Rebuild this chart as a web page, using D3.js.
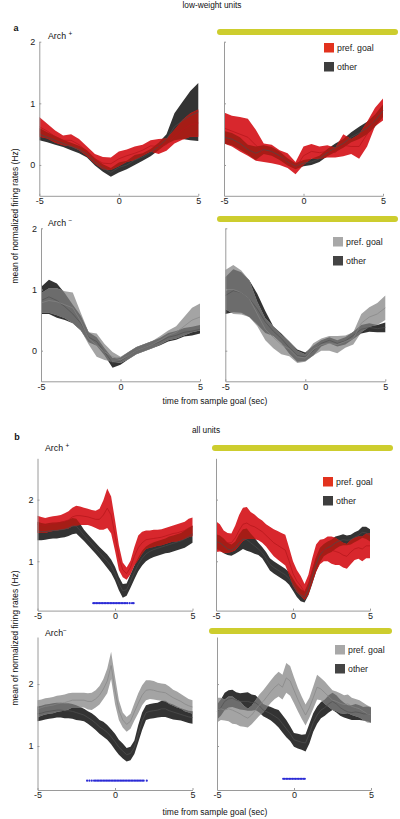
<!DOCTYPE html>
<html><head><meta charset="utf-8">
<script src="https://cdn.jsdelivr.net/npm/d3@7"></script>
<style>
body{margin:0;background:#fff;}
text{font-family:"Liberation Sans",Arial,Helvetica,sans-serif;}
</style>
</head><body>
<svg id="c" width="400" height="819"></svg>
<script>
// ---------- DATA ----------
const timeA = [-5,-4.5,-4,-3.5,-3,-2.5,-2,-1.5,-1,-0.5,0,0.5,1,1.5,2,2.5,3,3.5,4,4.5,5];
const timeB = [-5,-4.75,-4.5,-4.25,-4,-3.75,-3.5,-3.25,-3,-2.75,-2.5,-2.25,-2,-1.75,-1.5,-1.25,-1,-0.75,-0.5,-0.25,0,0.25,0.5,0.75,1,1.25,1.5,1.75,2,2.25,2.5,2.75,3,3.25,3.5,3.75,4,4.25,4.5,4.75,5];

const xTicks = [-5, 0, 5];
const yTicksLow = [0, 1, 2];
const yTicksAll = [1, 2];
const legendLabels = ["pref. goal", "other"];

// a: low-weight units, Arch+ (left: laser off, right: laser on)
const lowPlusL_prefMean  = [0.62,0.55,0.46,0.40,0.40,0.33,0.22,0.10,0.03,0.02,0.10,0.15,0.19,0.24,0.31,0.30,0.33,0.46,0.57,0.65,0.68];
const lowPlusL_prefSem   = [0.16,0.12,0.10,0.08,0.10,0.09,0.08,0.08,0.10,0.10,0.12,0.10,0.11,0.09,0.09,0.12,0.10,0.11,0.16,0.19,0.22];
const lowPlusL_otherMean = [0.50,0.45,0.40,0.35,0.30,0.25,0.18,0.05,-0.05,-0.12,-0.04,0.00,0.08,0.13,0.20,0.30,0.42,0.62,0.72,0.80,0.86];
const lowPlusL_otherSem  = [0.10,0.08,0.07,0.06,0.06,0.06,0.06,0.06,0.06,0.07,0.08,0.07,0.08,0.06,0.06,0.06,0.08,0.22,0.30,0.40,0.47];

const lowPlusR_prefMean  = [0.60,0.55,0.50,0.45,0.32,0.20,0.18,0.12,0.07,-0.05,0.15,0.22,0.20,0.22,0.20,0.32,0.30,0.30,0.50,0.78,0.90];
const lowPlusR_prefSem   = [0.25,0.25,0.28,0.30,0.25,0.15,0.15,0.12,0.12,0.10,0.15,0.12,0.10,0.10,0.08,0.18,0.12,0.20,0.20,0.15,0.18];
const lowPlusR_otherMean = [0.45,0.42,0.35,0.25,0.19,0.25,0.22,0.15,0.05,-0.02,0.03,0.05,0.10,0.20,0.28,0.35,0.45,0.52,0.60,0.72,0.88];
const lowPlusR_otherSem  = [0.10,0.10,0.10,0.08,0.11,0.07,0.07,0.07,0.06,0.05,0.05,0.05,0.05,0.06,0.07,0.07,0.08,0.10,0.10,0.10,0.10];

// a: low-weight units, Arch-
const lowMinusL_prefMean  = [0.78,0.82,0.80,0.75,0.70,0.48,0.20,0.09,-0.02,-0.10,-0.15,-0.08,0.00,0.05,0.10,0.17,0.25,0.30,0.40,0.50,0.55];
const lowMinusL_prefSem   = [0.16,0.20,0.22,0.22,0.25,0.14,0.10,0.19,0.13,0.08,0.05,0.06,0.06,0.06,0.06,0.07,0.08,0.10,0.15,0.20,0.22];
const lowMinusL_otherMean = [0.82,0.88,0.82,0.72,0.60,0.45,0.22,0.15,-0.02,-0.20,-0.17,-0.08,0.00,0.05,0.10,0.15,0.22,0.25,0.30,0.32,0.35];
const lowMinusL_otherSem  = [0.22,0.28,0.28,0.22,0.15,0.12,0.08,0.07,0.06,0.08,0.06,0.06,0.06,0.06,0.06,0.06,0.07,0.07,0.07,0.07,0.07];

const lowMinusR_prefMean  = [1.00,1.00,0.95,0.85,0.60,0.35,0.22,0.10,0.03,-0.10,-0.12,0.02,0.10,0.12,0.10,0.15,0.20,0.45,0.55,0.60,0.70];
const lowMinusR_prefSem   = [0.32,0.40,0.36,0.30,0.20,0.18,0.18,0.16,0.12,0.10,0.06,0.10,0.10,0.12,0.14,0.10,0.10,0.15,0.16,0.18,0.20];
const lowMinusR_otherMean = [0.90,0.98,0.95,0.85,0.68,0.47,0.32,0.20,0.05,-0.08,-0.10,0.00,0.12,0.17,0.12,0.16,0.25,0.35,0.38,0.36,0.38];
const lowMinusR_otherSem  = [0.30,0.35,0.33,0.30,0.25,0.18,0.08,0.08,0.10,0.10,0.07,0.08,0.05,0.05,0.05,0.06,0.06,0.07,0.07,0.06,0.08];

// b: all units, Arch+
const allPlusL_prefMean  = [1.60,1.59,1.58,1.60,1.61,1.62,1.63,1.65,1.67,1.72,1.74,1.74,1.73,1.72,1.70,1.68,1.68,1.75,1.86,1.75,1.42,1.06,0.86,0.80,0.90,1.08,1.22,1.30,1.35,1.36,1.37,1.38,1.39,1.41,1.43,1.45,1.46,1.48,1.50,1.54,1.56];
const allPlusL_prefSem   = [0.14,0.13,0.12,0.12,0.12,0.12,0.12,0.13,0.14,0.15,0.16,0.15,0.14,0.13,0.13,0.14,0.17,0.24,0.32,0.30,0.25,0.20,0.12,0.10,0.11,0.15,0.20,0.18,0.15,0.14,0.14,0.13,0.13,0.13,0.13,0.13,0.14,0.14,0.14,0.15,0.15];
const allPlusL_otherMean = [1.49,1.48,1.48,1.49,1.50,1.50,1.51,1.52,1.54,1.57,1.57,1.50,1.42,1.35,1.28,1.21,1.14,1.07,1.00,0.92,0.80,0.64,0.52,0.54,0.68,0.82,0.95,1.05,1.12,1.16,1.19,1.21,1.23,1.25,1.27,1.29,1.31,1.33,1.36,1.40,1.44];
const allPlusL_otherSem  = [0.15,0.14,0.13,0.13,0.13,0.13,0.13,0.13,0.13,0.13,0.12,0.11,0.09,0.09,0.09,0.09,0.09,0.10,0.11,0.11,0.11,0.11,0.11,0.10,0.11,0.11,0.11,0.12,0.12,0.12,0.12,0.12,0.12,0.12,0.13,0.13,0.13,0.13,0.14,0.14,0.14];
const allPlusL_sig = [-1.4,-1.3,-1.2,-1.1,-1.0,-0.9,-0.8,-0.7,-0.6,-0.5,-0.4,-0.3,-0.2,-0.1,0,0.1,0.2,0.3,0.4,0.5,0.6,0.7,0.8,0.95,1.1,1.2];

const allPlusR_prefMean  = [1.40,1.38,1.32,1.30,1.30,1.38,1.50,1.60,1.62,1.58,1.56,1.52,1.48,1.42,1.36,1.30,1.26,1.22,1.18,1.00,0.80,0.68,0.60,0.50,0.62,0.85,1.05,1.15,1.18,1.20,1.18,1.16,1.14,1.10,1.08,1.15,1.20,1.22,1.20,1.25,1.25];
const allPlusR_prefSem   = [0.25,0.22,0.18,0.16,0.15,0.20,0.25,0.27,0.26,0.22,0.20,0.18,0.18,0.18,0.20,0.22,0.23,0.24,0.25,0.22,0.20,0.18,0.16,0.13,0.16,0.20,0.22,0.20,0.18,0.20,0.22,0.22,0.20,0.20,0.20,0.20,0.18,0.18,0.20,0.20,0.20];
const allPlusR_otherMean = [1.32,1.30,1.25,1.20,1.18,1.22,1.30,1.36,1.35,1.30,1.25,1.20,1.14,1.05,0.95,0.90,0.86,0.82,0.78,0.72,0.62,0.52,0.45,0.42,0.55,0.75,0.95,1.10,1.18,1.22,1.25,1.30,1.33,1.35,1.34,1.35,1.39,1.42,1.47,1.46,1.42];
const allPlusR_otherSem  = [0.12,0.12,0.12,0.10,0.09,0.10,0.14,0.16,0.18,0.15,0.13,0.10,0.09,0.10,0.10,0.10,0.10,0.10,0.10,0.10,0.10,0.10,0.10,0.09,0.10,0.12,0.12,0.12,0.10,0.10,0.10,0.10,0.09,0.09,0.08,0.08,0.08,0.08,0.09,0.10,0.10];

// b: all units, Arch-
const allMinusL_prefMean  = [1.60,1.62,1.64,1.65,1.66,1.68,1.69,1.70,1.72,1.74,1.74,1.74,1.74,1.72,1.72,1.76,1.82,1.92,2.05,2.30,1.90,1.58,1.42,1.35,1.40,1.55,1.69,1.82,1.90,1.91,1.90,1.88,1.87,1.86,1.82,1.78,1.75,1.72,1.68,1.65,1.63];
const allMinusL_prefSem   = [0.14,0.13,0.13,0.13,0.13,0.13,0.13,0.13,0.13,0.12,0.12,0.12,0.12,0.13,0.14,0.14,0.15,0.16,0.20,0.22,0.22,0.16,0.12,0.12,0.12,0.14,0.16,0.16,0.16,0.15,0.15,0.14,0.14,0.14,0.14,0.13,0.13,0.12,0.12,0.11,0.11];
const allMinusL_otherMean = [1.52,1.53,1.55,1.56,1.57,1.58,1.58,1.57,1.57,1.56,1.54,1.52,1.50,1.46,1.42,1.37,1.31,1.27,1.22,1.15,1.07,0.98,0.92,0.86,0.88,0.98,1.20,1.40,1.54,1.56,1.57,1.58,1.60,1.60,1.57,1.55,1.53,1.51,1.49,1.47,1.46];
const allMinusL_otherSem  = [0.12,0.12,0.12,0.12,0.12,0.12,0.12,0.12,0.12,0.12,0.12,0.11,0.10,0.10,0.11,0.11,0.11,0.12,0.12,0.12,0.13,0.12,0.12,0.11,0.11,0.11,0.14,0.14,0.12,0.12,0.12,0.12,0.13,0.13,0.12,0.12,0.11,0.10,0.10,0.10,0.10];
const allMinusL_sig = [-1.8,-1.65,-1.5,-1.35,-1.25,-1.15,-1.05,-0.95,-0.85,-0.75,-0.65,-0.55,-0.45,-0.35,-0.25,-0.15,-0.05,0.05,0.15,0.25,0.35,0.45,0.55,0.65,0.75,0.85,0.95,1.05,1.15,1.25,1.35,1.45,1.55,1.65,1.75,1.85,2.05];

const allMinusR_prefMean  = [1.58,1.60,1.58,1.60,1.58,1.55,1.52,1.48,1.45,1.50,1.58,1.66,1.72,1.80,1.88,1.95,2.00,1.95,2.10,2.05,1.90,1.75,1.62,1.50,1.62,1.78,1.95,1.92,1.86,1.80,1.74,1.72,1.69,1.67,1.68,1.64,1.62,1.60,1.56,1.52,1.50];
const allMinusR_prefSem   = [0.20,0.18,0.17,0.20,0.22,0.20,0.20,0.17,0.15,0.15,0.16,0.17,0.18,0.18,0.18,0.19,0.20,0.20,0.24,0.24,0.21,0.19,0.18,0.17,0.16,0.18,0.20,0.18,0.18,0.17,0.16,0.16,0.16,0.15,0.15,0.14,0.14,0.14,0.14,0.14,0.13];
const allMinusR_otherMean = [1.55,1.62,1.72,1.76,1.77,1.74,1.72,1.72,1.72,1.70,1.70,1.65,1.58,1.55,1.52,1.48,1.44,1.36,1.28,1.20,1.10,1.08,1.06,1.05,1.20,1.38,1.50,1.58,1.62,1.68,1.72,1.68,1.62,1.58,1.55,1.54,1.55,1.54,1.52,1.52,1.50];
const allMinusR_otherSem  = [0.12,0.13,0.14,0.14,0.14,0.13,0.13,0.14,0.15,0.13,0.12,0.11,0.10,0.10,0.11,0.12,0.14,0.14,0.14,0.12,0.11,0.12,0.12,0.14,0.16,0.15,0.14,0.13,0.13,0.14,0.14,0.14,0.13,0.12,0.11,0.12,0.13,0.12,0.11,0.12,0.12];
const allMinusR_sig = [-0.7,-0.6,-0.5,-0.4,-0.3,-0.2,-0.1,0,0.1,0.2,0.3,0.4,0.5,0.6,0.7];

// ---------- DRAW ----------
const svg = d3.select("#c");
const defs = svg.append("defs");

const RED = {pref:"#d8272d", other:"#333333", overlap:"#a51d16", prefLine:"#b3161a", otherLine:"#4a4a4a", legPref:"#e2321e", legOther:"#3e3e3e"};
const GRAY = {pref:"#a4a4a4", other:"#333333", overlap:"#6c6c6c", prefLine:"#858585", otherLine:"#505050", legPref:"#a8a8a8", legOther:"#444444"};

let clipId = 0;
function panel(c) {
  const x = d3.scaleLinear().domain([-5, 5]).range([c.x0, c.x1]);
  const y = d3.scaleLinear().domain(c.yDomain).range([c.yB, c.yT]);
  const g = svg.append("g");
  const rows = (m, s) => c.time.map((t, i) => ({t, m: m[i], s: s[i]}));
  const pref = rows(c.prefMean, c.prefSem);
  const other = rows(c.otherMean, c.otherSem);
  const area = d3.area().x(d => x(d.t)).y0(d => y(d.m - d.s)).y1(d => y(d.m + d.s));
  const line = d3.line().x(d => x(d.t)).y(d => y(d.m));
  const id = "clip" + (clipId++);
  defs.append("clipPath").attr("id", id).append("path").attr("d", area(pref));
  const col = c.colors;
  g.append("path").attr("d", area(other)).attr("fill", col.other);
  g.append("path").attr("d", area(pref)).attr("fill", col.pref);
  g.append("path").attr("d", area(other)).attr("fill", col.overlap).attr("clip-path", `url(#${id})`);
  g.append("path").attr("d", line(other)).attr("fill", "none").attr("stroke", col.otherLine).attr("stroke-width", 0.7);
  g.append("path").attr("d", line(pref)).attr("fill", "none").attr("stroke", col.prefLine).attr("stroke-width", 0.7);

  // significance markers
  if (c.sig) {
    g.selectAll("circle.sig").data(c.sig).join("circle")
      .attr("cx", d => x(d)).attr("cy", y(c.sigLevel)).attr("r", 1.1)
      .attr("fill", "#2b2bd6");
  }

  // axes
  const yAxis = d3.axisLeft(y).tickValues(c.yTicks).tickSize(-2).tickSizeOuter(0).tickPadding(4)
    .tickFormat(c.yLabels ? d3.format("d") : () => "");
  const xAxis = d3.axisBottom(x).tickValues(xTicks).tickSize(-2).tickSizeOuter(0).tickPadding(2)
    .tickFormat(d => d < 0 ? "-" + Math.abs(d) : String(d));
  const ga = g.append("g").attr("transform", `translate(${c.x0},0)`).call(yAxis);
  const gx = g.append("g").attr("transform", `translate(0,${c.yB})`).call(xAxis);
  [ga, gx].forEach(a => {
    a.select(".domain").attr("stroke", "#9a9a9a").attr("stroke-width", 1);
    a.selectAll(".tick line").attr("stroke", "#9a9a9a");
    a.selectAll(".tick text").attr("fill", "#222").style("font-size", "9px")
      .style("font-family", '"Liberation Sans",Arial,sans-serif');
  });

  // legend
  if (c.legend) {
    const L = c.legend;
    const cols = [col.legPref, col.legOther];
    legendLabels.forEach((lab, i) => {
      g.append("rect").attr("x", L.x).attr("y", L.y + i * 19).attr("width", 10).attr("height", 9.5)
        .attr("fill", cols[i]);
      g.append("text").attr("x", L.x + 13).attr("y", L.y + i * 19 + 8).text(lab)
        .style("font-size", "8.8px").attr("fill", "#222");
    });
  }
  // laser bar
  if (c.bar) {
    g.append("line").attr("x1", c.bar[0]).attr("x2", c.bar[1]).attr("y1", c.bar[2]).attr("y2", c.bar[2])
      .attr("stroke", "#cdcd2e").attr("stroke-width", 6).attr("stroke-linecap", "round");
  }
}

// panel a
panel({time: timeA, x0: 39.3, x1: 198.3, yDomain: [-0.5, 2], yB: 195.8, yT: 41.7, yTicks: yTicksLow, yLabels: true,
  prefMean: lowPlusL_prefMean, prefSem: lowPlusL_prefSem, otherMean: lowPlusL_otherMean, otherSem: lowPlusL_otherSem, colors: RED});
panel({time: timeA, x0: 224, x1: 383, yDomain: [-0.5, 2], yB: 195.8, yT: 41.7, yTicks: yTicksLow, yLabels: false,
  prefMean: lowPlusR_prefMean, prefSem: lowPlusR_prefSem, otherMean: lowPlusR_otherMean, otherSem: lowPlusR_otherSem, colors: RED,
  legend: {x: 324, y: 43}, bar: [220, 395, 32]});
panel({time: timeA, x0: 41, x1: 200, yDomain: [-0.5, 2], yB: 381.3, yT: 228.3, yTicks: yTicksLow, yLabels: true,
  prefMean: lowMinusL_prefMean, prefSem: lowMinusL_prefSem, otherMean: lowMinusL_otherMean, otherSem: lowMinusL_otherSem, colors: GRAY});
panel({time: timeA, x0: 225.3, x1: 385.3, yDomain: [-0.5, 2], yB: 381.3, yT: 228.3, yTicks: yTicksLow, yLabels: false,
  prefMean: lowMinusR_prefMean, prefSem: lowMinusR_prefSem, otherMean: lowMinusR_otherMean, otherSem: lowMinusR_otherSem, colors: GRAY,
  legend: {x: 333, y: 237}, bar: [220, 395, 219]});

// panel b
panel({time: timeB, x0: 37.5, x1: 192.5, yDomain: [0.2, 2.67], yB: 610.6, yT: 458.3, yTicks: yTicksAll, yLabels: true,
  prefMean: allPlusL_prefMean, prefSem: allPlusL_prefSem, otherMean: allPlusL_otherMean, otherSem: allPlusL_otherSem, colors: RED,
  sig: allPlusL_sig, sigLevel: 0.32});
panel({time: timeB, x0: 216, x1: 370, yDomain: [0.2, 2.67], yB: 610.6, yT: 458.3, yTicks: yTicksAll, yLabels: false,
  prefMean: allPlusR_prefMean, prefSem: allPlusR_prefSem, otherMean: allPlusR_otherMean, otherSem: allPlusR_otherSem, colors: RED,
  legend: {x: 323, y: 477}, bar: [215, 390, 448]});
panel({time: timeB, x0: 37.5, x1: 192.5, yDomain: [0.29, 2.76], yB: 790, yT: 637, yTicks: yTicksAll, yLabels: true,
  prefMean: allMinusL_prefMean, prefSem: allMinusL_prefSem, otherMean: allMinusL_otherMean, otherSem: allMinusL_otherSem, colors: GRAY,
  sig: allMinusL_sig, sigLevel: 0.44});
panel({time: timeB, x0: 217, x1: 371, yDomain: [0.29, 2.76], yB: 790, yT: 637, yTicks: yTicksAll, yLabels: false,
  prefMean: allMinusR_prefMean, prefSem: allMinusR_prefSem, otherMean: allMinusR_otherMean, otherSem: allMinusR_otherSem, colors: GRAY,
  legend: {x: 335, y: 645}, bar: [212, 389, 631], sig: allMinusR_sig, sigLevel: 0.47});

// ---------- TEXT ----------
function txt(x, y, s, size, opts = {}) {
  const t = svg.append("text").attr("x", x).attr("y", y).style("font-size", size + "px").attr("fill", "#111").text(s);
  if (opts.anchor) t.attr("text-anchor", opts.anchor);
  if (opts.bold) t.style("font-weight", "bold");
  if (opts.rotate) t.attr("transform", `rotate(-90,${x},${y})`);
  return t;
}
function arch(x, y, sign, space) {
  const t = txt(x, y, "Arch" + (space ? " " : ""), 8.8);
  t.append("tspan").attr("dy", -3).style("font-size", "6.5px").text(sign);
}
txt(212, 8, "low-weight units", 8.3, {anchor: "middle"});
txt(16, 31, "a", 9, {anchor: "middle", bold: true});
arch(48, 39, "+", true);
arch(48, 226, "\u2212", true);
txt(15, 216, "mean of normalized firing rates (Hz)", 8.5, {anchor: "middle", rotate: true}).attr("dy", "0.35em");
txt(215, 404, "time from sample goal (sec)", 8.5, {anchor: "middle"});

txt(206, 433, "all units", 8.3, {anchor: "middle"});
txt(17, 440, "b", 9, {anchor: "middle", bold: true});
arch(45, 451, "+", true);
arch(45, 636, "\u2212", false);
txt(15, 638, "mean of normalized firing rates (Hz)", 8.5, {anchor: "middle", rotate: true}).attr("dy", "0.35em");
txt(215, 815, "time from sample goal (sec)", 8.5, {anchor: "middle"});
</script>
</body></html>
